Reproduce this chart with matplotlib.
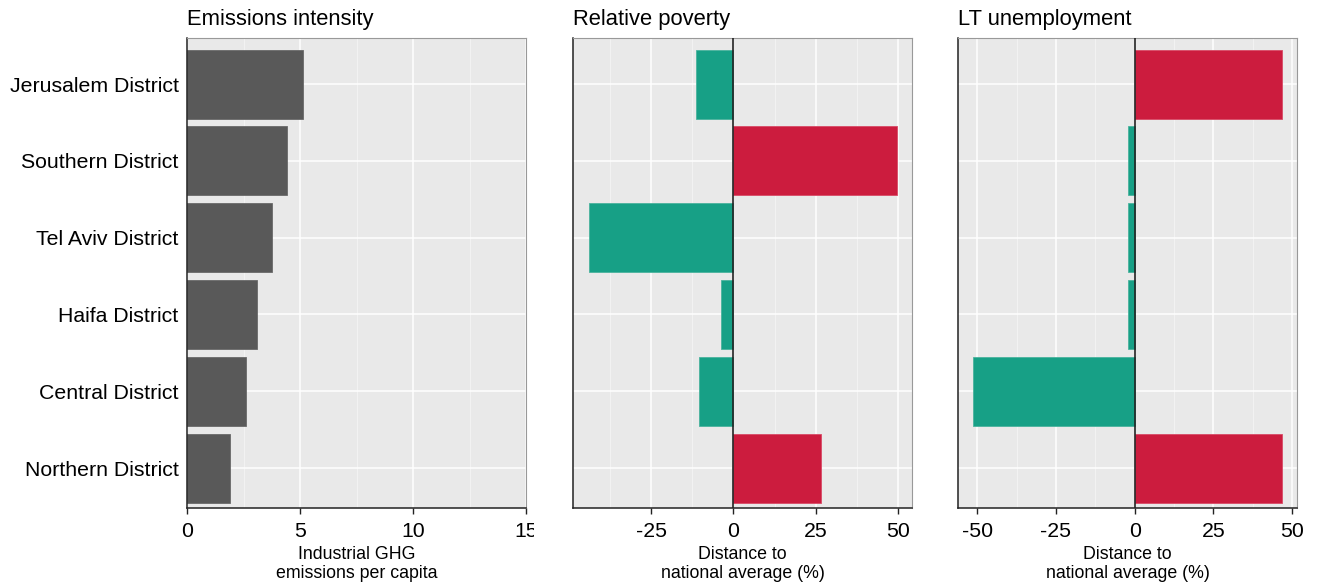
import matplotlib
matplotlib.use("Agg")
import matplotlib.pyplot as plt
from matplotlib.patches import Rectangle
import numpy as np

plt.rcParams['font.family'] = ['Liberation Sans', 'DejaVu Sans']

# District indicators
districts = ["Jerusalem District", "Southern District", "Tel Aviv District",
             "Haifa District", "Central District", "Northern District"]
emissions = [5.13, 4.44, 3.75, 3.10, 2.59, 1.90]
poverty = [-11.5, 49.7, -43.9, -3.9, -10.6, 26.7]
lt_unemployment = [46.8, -2.2, -2.2, -2.2, -51.2, 46.8]

titles = ["Emissions intensity", "Relative poverty", "LT unemployment"]
xlabels = ["Industrial GHG\nemissions per capita",
           "Distance to\nnational average (%)",
           "Distance to\nnational average (%)"]

GREY = "#595959"
GREEN = "#17a086"
RED = "#cc1c3e"
PANEL_BG = "#e9e9e9"

TICK_FS = 15.3
TITLE_FS = 15.8
XLAB_FS = 12.8

fig = plt.figure(figsize=(13.2, 5.87), dpi=100)
W, H = 1320, 587

def add_panel(x0, x1, y0=38, y1=508):
    return fig.add_axes([x0 / W, (H - y1) / H, (x1 - x0) / W, (y1 - y0) / H])

axes = [add_panel(187, 526), add_panel(573, 912), add_panel(958, 1297)]

ypos = np.arange(len(districts))[::-1]
bar_h = 0.9

def style(ax, xlim, major, minor, title, xlabel):
    ax.set_facecolor(PANEL_BG)
    ax.set_xlim(*xlim)
    ax.set_ylim(-0.52, len(districts) - 1 + 0.6)
    ax.set_xticks(major)
    ax.set_xticks(minor, minor=True)
    ax.set_yticks(ypos)
    ax.grid(True, which="major", color="white", linewidth=1.1, zorder=0)
    ax.grid(True, which="minor", axis="x", color="#f4f4f4", linewidth=0.6, zorder=0)
    ax.set_axisbelow(True)
    for s in ("top", "right"):
        ax.spines[s].set_color("#999999")
        ax.spines[s].set_linewidth(0.8)
    for s in ("left", "bottom"):
        ax.spines[s].set_color("#222222")
        ax.spines[s].set_linewidth(1.1)
    ax.tick_params(axis="x", which="major", length=4, width=1, color="#222222",
                   labelsize=TICK_FS, pad=6, labelcolor="black")
    ax.tick_params(axis="x", which="minor", length=0)
    ax.tick_params(axis="y", length=0, labelsize=TICK_FS, pad=6)
    ax.set_title(title, loc="left", fontsize=TITLE_FS, pad=9)
    ax.set_xlabel(xlabel, fontsize=XLAB_FS, linespacing=1.15, labelpad=4)

# Emissions
ax = axes[0]
ax.barh(ypos, emissions, height=bar_h, color=GREY, edgecolor="#6a6a6a",
        linewidth=0.6, zorder=2)
style(ax, (0, 15), [0, 5, 10, 15], [2.5, 7.5, 12.5], titles[0], xlabels[0])
ax.set_yticklabels(districts)
ax.set_xticklabels(["0", "5", "10", "15"])
# the last tick label is cut at the edge of the first panel's region
fig.add_artist(Rectangle((534 / W, 1 - 545 / H), 30 / W, 35 / H,
                         transform=fig.transFigure, facecolor="white",
                         edgecolor="none", zorder=10))

# Distance-to-average panels
for ax, vals, xlim, major, minor, t, xl in [
    (axes[1], poverty, (-48.8, 54.3), [-25, 0, 25, 50],
     [-37.5, -12.5, 12.5, 37.5], titles[1], xlabels[1]),
    (axes[2], lt_unemployment, (-56.1, 51.6), [-50, -25, 0, 25, 50],
     [-37.5, -12.5, 12.5, 37.5], titles[2], xlabels[2]),
]:
    colors = [RED if v > 0 else GREEN for v in vals]
    edges = ["#d84a66" if v > 0 else "#4ab39d" for v in vals]
    ax.barh(ypos, vals, height=bar_h, color=colors, edgecolor=edges,
            linewidth=0.6, zorder=2)
    ax.axvline(0, color="#222222", linewidth=1.2, zorder=3)
    style(ax, xlim, major, minor, t, xl)
    ax.set_yticklabels([])
    ax.set_xticklabels([str(m) for m in major])

fig.savefig("out.png", dpi=100)
